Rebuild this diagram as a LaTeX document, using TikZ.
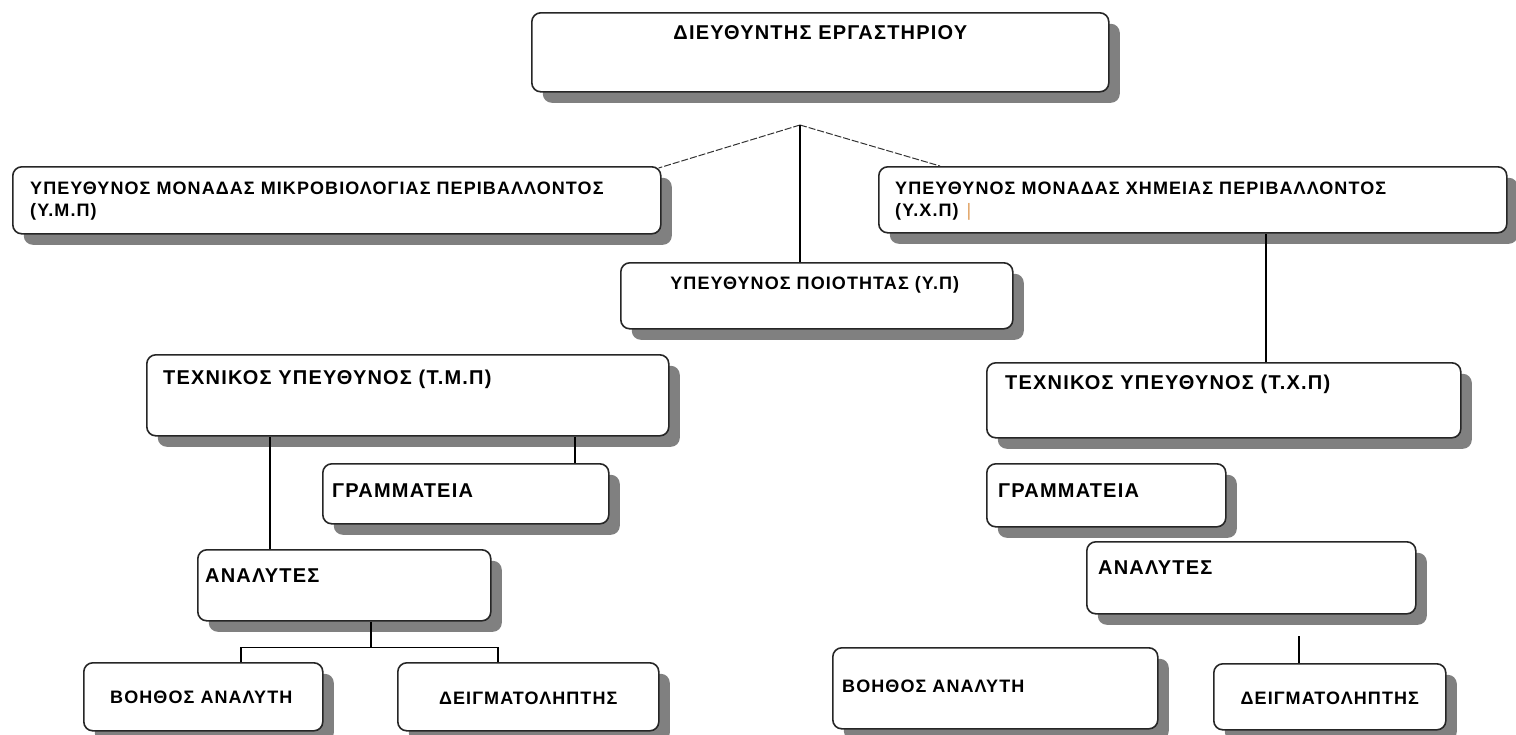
\documentclass[tikz,border=0pt]{standalone}
\usepackage{fontspec}
\setmainfont{Liberation Sans}[LetterSpace=6]
\usetikzlibrary{calc}
\usetikzlibrary{shadows}
\usetikzlibrary{positioning}
\definecolor{shd}{HTML}{808080}
\definecolor{cursor}{HTML}{E0A060}
\tikzset{orgbox/.style 2 args={draw=black!85,line width=1.6pt,rounded corners=9pt,fill=white,
  minimum width=#1,minimum height=#2,inner sep=0pt,anchor=north west,
  drop shadow={shadow xshift=11pt,shadow yshift=-11pt,fill=shd,opacity=1}}}
\tikzset{lbl/.style={font=\fontsize{18}{22}\selectfont\bfseries,inner sep=0pt,align=left}}
\tikzset{lblbig/.style={lbl,font=\fontsize{20}{24}\selectfont\bfseries}}
\tikzset{link/.style={line width=1.3pt}}
\tikzset{diag/.style={line width=1pt,black!80,dash pattern=on 7pt off 2pt}}

\begin{document}
\begin{tikzpicture}[x=1pt,y=-1pt]
\useasboundingbox (0,0) rectangle (1516,734);

% boxes
\node[orgbox={577pt}{79pt}] (dir) at (531,12) {};
\node[orgbox={648pt}{67pt}] (ymp) at (12,166) {};
\node[orgbox={628pt}{66pt}] (yxp) at (878,166) {};
\node[orgbox={392pt}{66pt}] (qual) at (620,262) {};
\node[orgbox={522pt}{81pt}] (tmp) at (146,354) {};
\node[orgbox={474pt}{75pt}] (txp) at (986,362) {};
\node[orgbox={286pt}{60pt}] (gr1) at (322,463) {};
\node[orgbox={239pt}{63pt}] (gr2) at (986,463) {};
\node[orgbox={293pt}{71pt}] (an1) at (197,549) {};
\node[orgbox={329pt}{72pt}] (an2) at (1086,541) {};
\node[orgbox={239pt}{68pt}] (bo1) at (83,662) {};
\node[orgbox={261pt}{68pt}] (dg1) at (397,662) {};
\node[orgbox={325pt}{81pt}] (bo2) at (832,647) {};
\node[orgbox={232pt}{66pt}] (dg2) at (1213,663) {};

% texts
\node[lblbig,anchor=base] (dirT) at ($(dir.north)+(0,27)$) {ΔΙΕΥΘΥΝΤΗΣ ΕΡΓΑΣΤΗΡΙΟΥ};
\node[lbl,anchor=north west] (ympT) at ($(ymp.north west)+(18,16)$)
  {ΥΠΕΥΘΥΝΟΣ ΜΟΝΑΔΑΣ ΜΙΚΡΟΒΙΟΛΟΓΙΑΣ ΠΕΡΙΒΑΛΛΟΝΤΟΣ\\(Υ.Μ.Π)};
\node[lbl,anchor=north west] (yxpT) at ($(yxp.north west)+(17,16)$)
  {ΥΠΕΥΘΥΝΟΣ ΜΟΝΑΔΑΣ ΧΗΜΕΙΑΣ ΠΕΡΙΒΑΛΛΟΝΤΟΣ\\(Υ.Χ.Π)\hspace{8pt}{\mdseries\color{cursor}|}};
\node[lbl,anchor=base] (qualT) at ($(qual.north)+(-2,27)$) {ΥΠΕΥΘΥΝΟΣ ΠΟΙΟΤΗΤΑΣ (Υ.Π)};
\node[lblbig,anchor=base west] (tmpT) at ($(tmp.north west)+(17,30)$) {ΤΕΧΝΙΚΟΣ ΥΠΕΥΘΥΝΟΣ (Τ.Μ.Π)};
\node[lblbig,anchor=base west] (txpT) at ($(txp.north west)+(19,27)$) {ΤΕΧΝΙΚΟΣ ΥΠΕΥΘΥΝΟΣ (Τ.Χ.Π)};
\node[lblbig,anchor=base west] (gr1T) at ($(gr1.north west)+(10,34)$) {ΓΡΑΜΜΑΤΕΙΑ};
\node[lblbig,anchor=base west] (gr2T) at ($(gr2.north west)+(12,34)$) {ΓΡΑΜΜΑΤΕΙΑ};
\node[lblbig,anchor=base west] (an1T) at ($(an1.north west)+(8,33)$) {ΑΝΑΛΥΤΕΣ};
\node[lblbig,anchor=base west] (an2T) at ($(an2.north west)+(12,33)$) {ΑΝΑΛΥΤΕΣ};
\node[lbl,anchor=base] (bo1T) at ($(bo1.north)+(-2,41)$) {ΒΟΗΘΟΣ ΑΝΑΛΥΤΗ};
\node[lbl,anchor=base] (dg1T) at ($(dg1.north)+(0,42)$) {ΔΕΙΓΜΑΤΟΛΗΠΤΗΣ};
\node[lbl,anchor=base west] (bo2T) at ($(bo2.north west)+(10,45)$) {ΒΟΗΘΟΣ ΑΝΑΛΥΤΗ};
\node[lbl,anchor=base] (dg2T) at ($(dg2.north)+(0,41)$) {ΔΕΙΓΜΑΤΟΛΗΠΤΗΣ};

% connectors
\coordinate (split) at (800,125);
\draw[diag] (split) -- ($(ymp.north east)+(-3,2)$);
\draw[diag] (split) -- ($(yxp.north west)+(62,0)$);
\draw[link] (split) -- (split |- qual.north);

\coordinate (c1) at ($(txp.north west)+(280,0)$);
\draw[link] (c1) -- (c1 |- yxp.south);

\coordinate (c2) at ($(tmp.south west)+(124,0)$);
\draw[link] (c2) -- (c2 |- an1.north);
\coordinate (c3) at ($(tmp.south west)+(429,0)$);
\draw[link] (c3) -- (c3 |- gr1.north);

\coordinate (c4) at ($(an1.south west)+(174,0)$);
\coordinate (bar) at ($(c4)+(0,26)$);
\coordinate (c5) at ($(bo1.north west)+(158,0)$);
\coordinate (c6) at ($(dg1.north west)+(101,0)$);
\draw[link] (c4) -- (bar);
\draw[link] (c5) |- (bar) -| (c6);

\coordinate (c7) at ($(dg2.north west)+(86,-27)$);
\draw[link] (c7) -- (c7 |- dg2.north);
\end{tikzpicture}
\end{document}
